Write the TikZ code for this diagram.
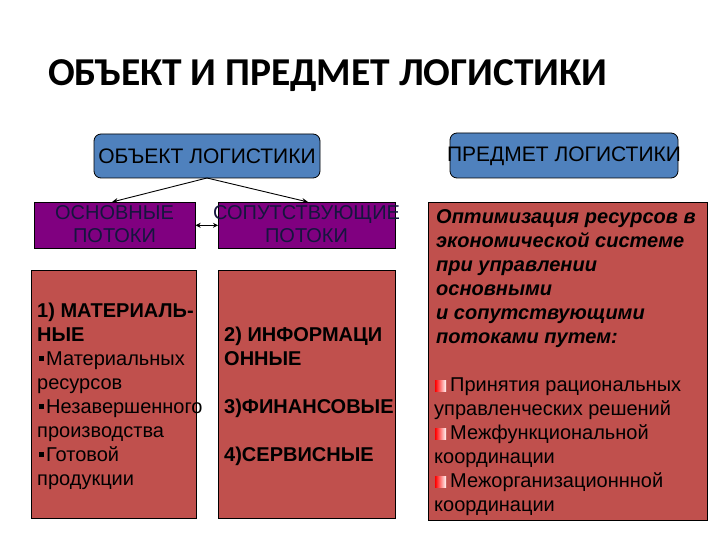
\documentclass[tikz,border=0pt]{standalone}
\usepackage{fontspec}
\setmainfont{Liberation Sans}
\newfontfamily\titlefont{Carlito}
\usetikzlibrary{arrows.meta}
\definecolor{boxblue}{HTML}{4F81BD}
\definecolor{boxpurple}{HTML}{800080}
\definecolor{boxred}{HTML}{C0504D}
\definecolor{navytext}{HTML}{15153E}
\newcommand\sqbul{\hspace{2pt}\rule[4pt]{5pt}{5pt}\hspace{2pt}}
\newcommand\redbul{\hspace{1pt}\tikz[baseline=0pt]\shade[left color=red, right color=white] (0pt,0pt) rectangle (11pt,11pt);\hspace{4pt}}
\newcommand\firststrut{\rule{0pt}{15pt}}
\begin{document}
\begin{tikzpicture}[x=1pt,y=-1pt,
  bluebox/.style={draw=black, line width=0.8pt, fill=boxblue, rounded corners=7pt, inner sep=0pt},
  bluetxt/.style={inner sep=0pt, font=\fontsize{21}{24}\selectfont},
  purplebox/.style={draw=black, line width=0.6pt, fill=boxpurple, inner sep=0pt},
  purpletxt/.style={align=center, inner sep=0pt, text=navytext, font=\fontsize{20}{23}\selectfont},
  redbox/.style={draw=black, line width=0.8pt, fill=boxred, inner sep=0pt},
  txt/.style={anchor=north west, inner sep=0pt, align=left, font=\fontsize{20}{24}\selectfont},
  conn/.style={draw=black, line width=0.9pt, -{Stealth[length=6pt,width=5pt]}}
]
\useasboundingbox (0,0) rectangle (720,540);
\fill[white] (0,0) rectangle (720,540);

% title
\node[anchor=base west, inner sep=0pt, font=\titlefont\bfseries\fontsize{39.5}{44}\selectfont] (title) at (48,86) {ОБЪЕКТ И ПРЕДМЕТ ЛОГИСТИКИ};

% blue boxes
\draw[bluebox] (94,134) rectangle (320,178);
\node[bluetxt] (obj) at (207,156.5) {ОБЪЕКТ ЛОГИСТИКИ};
\coordinate (objbot) at (207,178);
\draw[bluebox] (450,133) rectangle (678,178);
\node[bluetxt] (pred) at (564,156) {ПРЕДМЕТ ЛОГИСТИКИ};

% purple boxes
\node[purplebox, minimum width=161pt, minimum height=46pt, anchor=north west] (osn) at (34,202) {};
\node[purpletxt] (osnt) at (114.5,224) {ОСНОВНЫЕ\\ПОТОКИ};
\node[purplebox, minimum width=177pt, minimum height=46pt, anchor=north west] (sop) at (218,202) {};
\node[purpletxt] (sopt) at (306.5,224) {СОПУТСТВУЮЩИЕ\\ПОТОКИ};

% connectors
\coordinate (osntop) at (112,202);
\coordinate (soptop) at (308,202);
\draw[conn] (objbot) -- (osntop);
\draw[conn] (objbot) -- (soptop);
\draw[draw=black, line width=0.9pt, {Stealth[length=5pt,width=5pt]}-{Stealth[length=5pt,width=5pt]}] (osn.east) -- (sop.west);

% red boxes
\node[redbox, minimum width=165pt, minimum height=248pt, anchor=north west] (mat) at (31,270) {};
\node[redbox, minimum width=177pt, minimum height=248pt, anchor=north west] (inf) at (218,270) {};
\node[redbox, minimum width=279pt, minimum height=318pt, anchor=north west] (opt) at (428,202) {};

\node[txt] (matt) at (37,302) {\firststrut\textbf{1) МАТЕРИАЛЬ-}\\
\textbf{НЫЕ}\\
\sqbul Материальных\\
ресурсов\\
\sqbul Незавершенного\\
производства\\
\sqbul Готовой\\
продукции};

\node[txt] (inft) at (224,326) {\firststrut\textbf{2) ИНФОРМАЦИ}\\
\textbf{ОННЫЕ}\\[24pt]
\textbf{3)ФИНАНСОВЫЕ}\\[24pt]
\textbf{4)СЕРВИСНЫЕ}};

\node[txt, font=\fontsize{20}{24}\selectfont\bfseries\itshape] (optt) at (436,208) {\firststrut Оптимизация ресурсов в\\
экономической системе\\
при управлении\\
основными\\
и сопутствующими\\
потоками путем:};

\node[txt] (bult) at (434,376) {\firststrut\redbul Принятия рациональных\\
управленческих решений\\
\redbul Межфункциональной\\
координации\\
\redbul Межорганизационнной\\
координации};
\end{tikzpicture}
\end{document}
